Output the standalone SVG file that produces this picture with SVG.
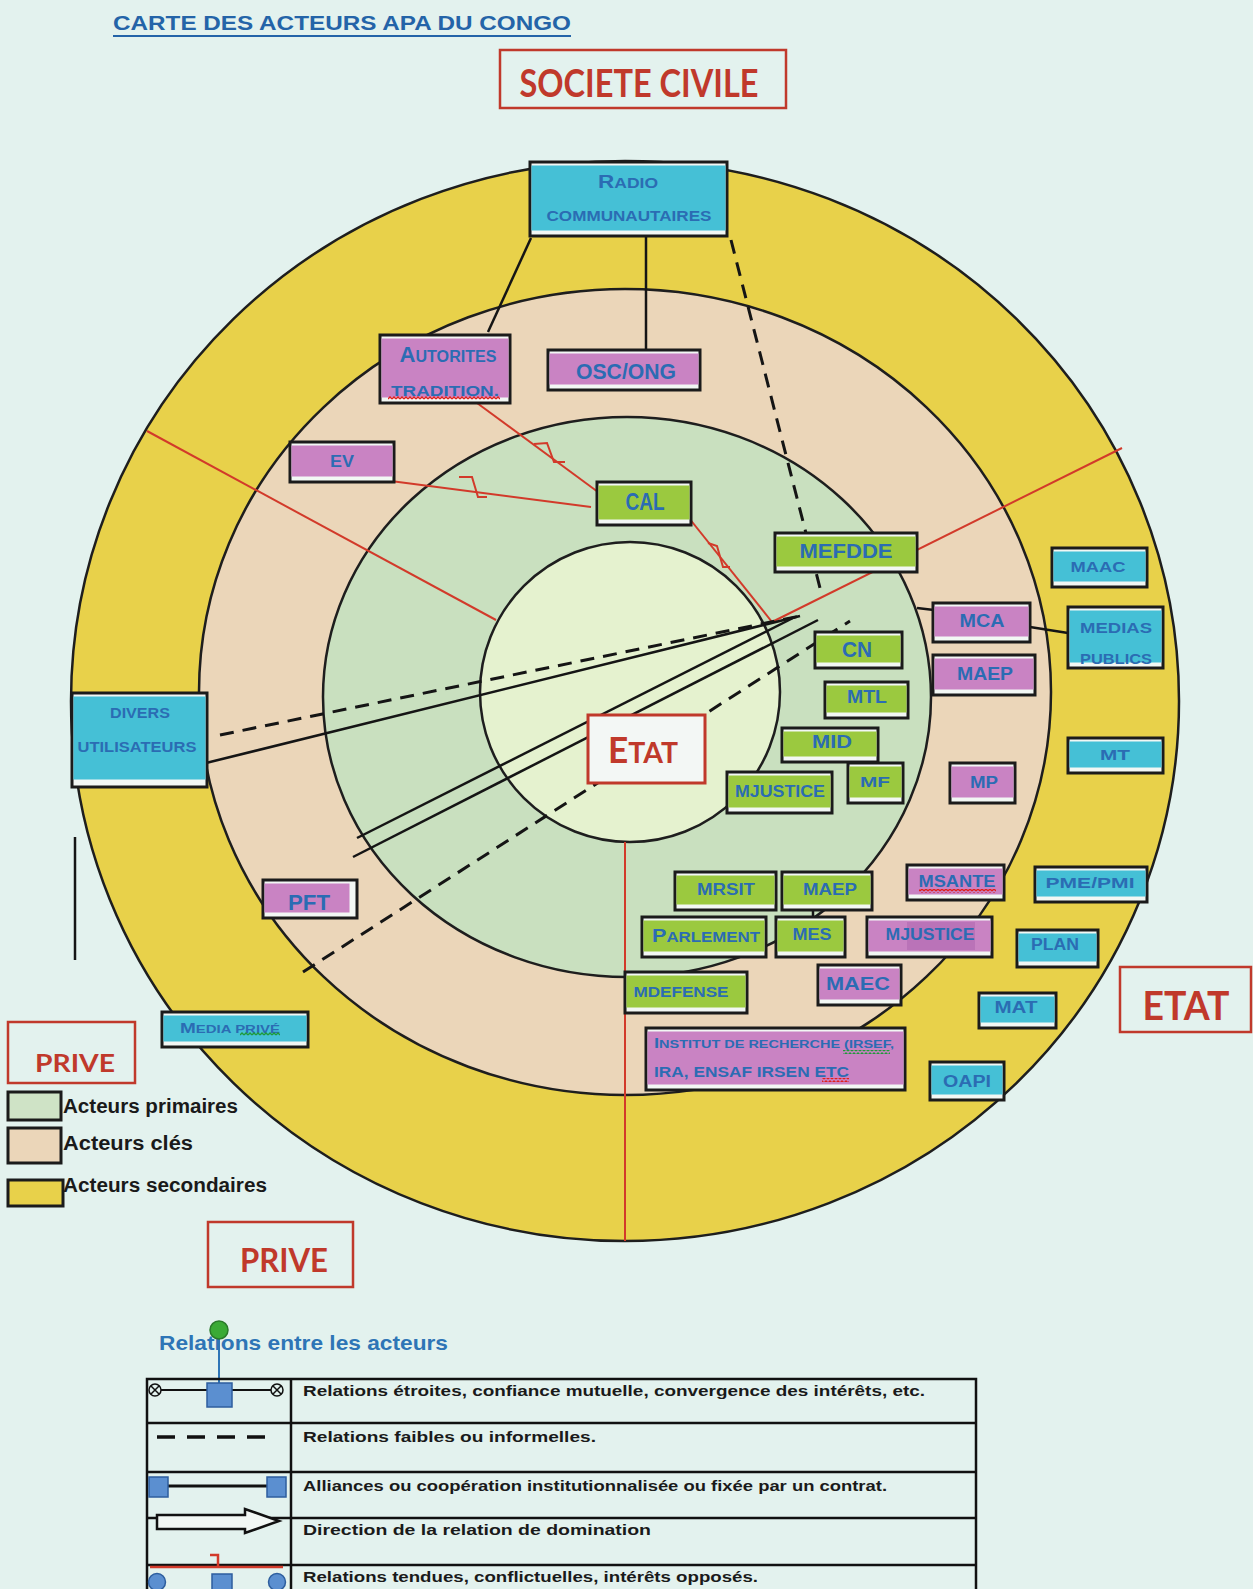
<svg xmlns="http://www.w3.org/2000/svg" width="1253" height="1589" viewBox="0 0 1253 1589">
<style>
.bgc{fill:#e3f2ee}
.ring{stroke:#1e1e1e;stroke-width:2.5}
.yel{fill:#e8d14a}.pea{fill:#ebd6b9}.grn{fill:#c9e0bf}.inn{fill:#e5f2cf}
.box{fill:#f2f7f4;stroke:#1b1b1b;stroke-width:3}
.cy{fill:#45c0d6}.pk{fill:#c983c3}.gr{fill:#9bc93f}
.bt{font-family:"Liberation Sans","DejaVu Sans",sans-serif;font-weight:bold;fill:#2b6cb3;text-anchor:middle}
.red{font-family:Lato,"Liberation Sans",sans-serif;font-weight:bold;fill:#c0392b;text-anchor:middle}
.lab{fill:none;stroke:#c0392b;stroke-width:2.5}
.ln{stroke:#151515;stroke-width:2.5;fill:none}
.dsh{stroke:#151515;stroke-width:3;fill:none;stroke-dasharray:14 9}
.rl{stroke:#d23a2a;stroke-width:2;fill:none}
.lt{font-family:"Liberation Sans","DejaVu Sans",sans-serif;fill:#1a1a1a}
.lg{font-weight:bold}
.tb{stroke:#111;stroke-width:2.5;fill:none}
.bsq{fill:#5b8fd0;stroke:#2e5e9e;stroke-width:1.5}
</style>
<defs>
<pattern id="wr" width="4" height="4" patternUnits="userSpaceOnUse"><path d="M0 3 L2 1 L4 3" stroke="#e0201c" fill="none" stroke-width="1.3"/></pattern>
<pattern id="wg" width="4" height="4" patternUnits="userSpaceOnUse"><path d="M0 3 L2 1 L4 3" stroke="#1f9a3a" fill="none" stroke-width="1.3"/></pattern>
</defs>
<rect class="bgc" x="0" y="0" width="1253" height="1589"/>

<g id="title">
<text x="113" y="30" font-family="'Liberation Sans',sans-serif" font-weight="bold" font-size="21" fill="#2464a8" textLength="458" lengthAdjust="spacingAndGlyphs">CARTE DES ACTEURS APA DU CONGO</text>
<line x1="113" y1="36" x2="571" y2="36" stroke="#2464a8" stroke-width="2"/>
</g>

<g id="rings">
<ellipse class="ring yel" cx="625" cy="701" rx="554" ry="540"/>
<ellipse class="ring pea" cx="625" cy="692" rx="426" ry="403"/>
<ellipse class="ring grn" cx="627" cy="697" rx="304" ry="280"/>
<ellipse class="ring inn" cx="630" cy="692" rx="150" ry="150"/>
</g>

<g id="connectors">
<line class="rl" x1="496" y1="620" x2="147" y2="431"/>
<line class="rl" x1="772" y1="622" x2="1122" y2="448"/>
<line class="rl" x1="625" y1="842" x2="625" y2="1241"/>
<line class="rl" x1="477" y1="403" x2="598" y2="492"/>
<polyline class="rl" points="534,444 547,443 554,462 565,462"/>
<line class="rl" x1="383" y1="480" x2="591" y2="507"/>
<polyline class="rl" points="459,477 472,477 478,497 487,497"/>
<line class="rl" x1="689" y1="518" x2="772" y2="622"/>
<polyline class="rl" points="708,543 717,546 723,567 730,567"/>
<line class="ln" x1="531" y1="238" x2="488" y2="332"/>
<line class="ln" x1="646" y1="237" x2="646" y2="350"/>
<line class="dsh" x1="731" y1="240" x2="820" y2="588"/>
<line class="ln" x1="206" y1="763" x2="800" y2="616"/>
<line class="dsh" x1="220" y1="735" x2="800" y2="616"/>
<line class="ln" x1="357" y1="838" x2="795" y2="617"/>
<line class="ln" x1="353" y1="857" x2="818" y2="620"/>
<line class="dsh" x1="303" y1="972" x2="850" y2="621"/>
<line class="ln" x1="917" y1="608" x2="934" y2="610"/>
<line class="ln" x1="1030" y1="627" x2="1068" y2="633"/>
<line class="ln" x1="813" y1="909" x2="813" y2="918"/>
<line class="ln" x1="75" y1="837" x2="75" y2="960" stroke-width="3"/>
</g>

<g id="nodes">
<g id="n-radio"><rect class="box" x="530" y="162" width="197" height="74"/><rect class="cy" x="531.5" y="165.5" width="194" height="65"/>
<text class="bt" x="628" y="188" font-size="14" textLength="60" lengthAdjust="spacingAndGlyphs"><tspan font-size="18">R</tspan>ADIO</text>
<text class="bt" x="629" y="221" font-size="14" textLength="165" lengthAdjust="spacingAndGlyphs">COMMUNAUTAIRES</text></g>

<g id="n-autorites"><rect class="box" x="380" y="335" width="130" height="68"/><rect class="pk" x="381.5" y="338.5" width="127" height="59"/>
<text class="bt" x="448" y="362" font-size="16" textLength="97" lengthAdjust="spacingAndGlyphs"><tspan font-size="22">A</tspan>UTORITES</text>
<text class="bt" x="445" y="396" font-size="15" textLength="108" lengthAdjust="spacingAndGlyphs">TRADITION.</text>
<rect x="388" y="396" width="112" height="4" fill="url(#wr)"/></g>

<g id="n-osc"><rect class="box" x="548" y="350" width="152" height="40"/><rect class="pk" x="549.5" y="353.5" width="149" height="31"/>
<text class="bt" x="626" y="379" font-size="22" font-weight="normal" textLength="100" lengthAdjust="spacingAndGlyphs">OSC/ONG</text></g>

<g id="n-ev"><rect class="box" x="290" y="442" width="104" height="40"/><rect class="pk" x="291.5" y="445.5" width="101" height="31"/>
<text class="bt" x="342" y="467" font-size="16" textLength="24" lengthAdjust="spacingAndGlyphs">EV</text></g>

<g id="n-cal"><rect class="box" x="597" y="482" width="94" height="43"/><rect class="gr" x="598.5" y="485.5" width="91" height="34"/>
<text class="bt" x="645" y="510" font-size="23" font-weight="normal" textLength="39" lengthAdjust="spacingAndGlyphs">CAL</text></g>

<g id="n-mefdde"><rect class="box" x="775" y="533" width="142" height="39"/><rect class="gr" x="776.5" y="536.5" width="139" height="30"/>
<text class="bt" x="846" y="558" font-size="21" textLength="93" lengthAdjust="spacingAndGlyphs">MEFDDE</text></g>

<g id="n-maac"><rect class="box" x="1052" y="548" width="95" height="39"/><rect class="cy" x="1053.5" y="551.5" width="92" height="30"/>
<text class="bt" x="1098" y="572" font-size="14" textLength="55" lengthAdjust="spacingAndGlyphs">MAAC</text></g>

<g id="n-mca"><rect class="box" x="933" y="603" width="97" height="39"/><rect class="pk" x="934.5" y="606.5" width="94" height="30"/>
<text class="bt" x="982" y="627" font-size="18" textLength="45" lengthAdjust="spacingAndGlyphs">MCA</text></g>

<g id="n-medias"><rect class="box" x="1068" y="607" width="95" height="61"/><rect class="cy" x="1069.5" y="610.5" width="92" height="52"/>
<text class="bt" x="1116" y="633" font-size="14" textLength="72" lengthAdjust="spacingAndGlyphs">MEDIAS</text>
<text class="bt" x="1116" y="664" font-size="14" textLength="72" lengthAdjust="spacingAndGlyphs">PUBLICS</text></g>

<g id="n-cn"><rect class="box" x="815" y="632" width="87" height="36"/><rect class="gr" x="816.5" y="635.5" width="84" height="27"/>
<text class="bt" x="857" y="657" font-size="22" font-weight="normal" textLength="30" lengthAdjust="spacingAndGlyphs">CN</text></g>

<g id="n-maep1"><rect class="box" x="933" y="655" width="102" height="40"/><rect class="pk" x="934.5" y="658.5" width="99" height="31"/>
<text class="bt" x="985" y="680" font-size="18" textLength="56" lengthAdjust="spacingAndGlyphs">MAEP</text></g>

<g id="n-mtl"><rect class="box" x="825" y="682" width="83" height="36"/><rect class="gr" x="826.5" y="685.5" width="80" height="27"/>
<text class="bt" x="867" y="703" font-size="18" textLength="40" lengthAdjust="spacingAndGlyphs">MTL</text></g>

<g id="n-divers"><rect class="box" x="72" y="693" width="135" height="94"/><rect class="cy" x="73.5" y="696.5" width="132" height="83"/>
<text class="bt" x="140" y="718" font-size="14" textLength="60" lengthAdjust="spacingAndGlyphs">DIVERS</text>
<text class="bt" x="137" y="752" font-size="14" textLength="119" lengthAdjust="spacingAndGlyphs">UTILISATEURS</text></g>

<g id="n-etat"><rect x="588" y="715" width="117" height="68" fill="#f3f7f5" stroke="#c0392b" stroke-width="3"/>
<text class="red" x="643" y="763" font-size="29" textLength="70" lengthAdjust="spacingAndGlyphs"><tspan font-size="36">E</tspan>TAT</text></g>

<g id="n-mid"><rect class="box" x="782" y="728" width="96" height="34"/><rect class="gr" x="783.5" y="731.5" width="93" height="25"/>
<text class="bt" x="832" y="748" font-size="18" textLength="40" lengthAdjust="spacingAndGlyphs">MID</text></g>

<g id="n-mt"><rect class="box" x="1068" y="738" width="95" height="35"/><rect class="cy" x="1069.5" y="741.5" width="92" height="26"/>
<text class="bt" x="1115" y="760" font-size="14" textLength="30" lengthAdjust="spacingAndGlyphs">MT</text></g>

<g id="n-mjustice1"><rect class="box" x="727" y="772" width="105" height="41"/><rect class="gr" x="728.5" y="775.5" width="102" height="32"/>
<text class="bt" x="780" y="797" font-size="16" textLength="90" lengthAdjust="spacingAndGlyphs">MJUSTICE</text></g>

<g id="n-mf"><rect class="box" x="848" y="763" width="55" height="40"/><rect class="gr" x="849.5" y="766.5" width="52" height="31"/>
<text class="bt" x="875" y="787" font-size="14" textLength="30" lengthAdjust="spacingAndGlyphs">MF</text></g>

<g id="n-mp"><rect class="box" x="950" y="763" width="65" height="40"/><rect class="pk" x="951.5" y="766.5" width="62" height="31"/>
<text class="bt" x="984" y="788" font-size="16" textLength="28" lengthAdjust="spacingAndGlyphs">MP</text></g>

<g id="n-pft"><rect class="box" x="263" y="880" width="94" height="38"/><rect class="pk" x="264.5" y="883.5" width="85" height="29"/>
<text class="bt" x="309" y="910" font-size="22" font-weight="normal" textLength="42" lengthAdjust="spacingAndGlyphs">PFT</text></g>

<g id="n-mrsit"><rect class="box" x="675" y="872" width="101" height="38"/><rect class="gr" x="676.5" y="875.5" width="98" height="29"/>
<text class="bt" x="726" y="895" font-size="16" textLength="58" lengthAdjust="spacingAndGlyphs">MRSIT</text></g>

<g id="n-maep2"><rect class="box" x="782" y="872" width="90" height="38"/><rect class="gr" x="783.5" y="875.5" width="87" height="29"/>
<text class="bt" x="830" y="895" font-size="16" textLength="54" lengthAdjust="spacingAndGlyphs">MAEP</text></g>

<g id="n-msante"><rect class="box" x="907" y="865" width="97" height="35"/><rect class="pk" x="908.5" y="868.5" width="94" height="26"/>
<text class="bt" x="957" y="887" font-size="16" textLength="77" lengthAdjust="spacingAndGlyphs">MSANTE</text>
<rect x="919" y="889" width="77" height="4" fill="url(#wr)"/></g>

<g id="n-pme"><rect class="box" x="1035" y="867" width="112" height="35"/><rect class="cy" x="1036.5" y="870.5" width="109" height="26"/>
<text class="bt" x="1090" y="888" font-size="14" textLength="89" lengthAdjust="spacingAndGlyphs">PME/PMI</text></g>

<g id="n-parlement"><rect class="box" x="642" y="917" width="124" height="40"/><rect class="gr" x="643.5" y="920.5" width="121" height="31"/>
<text class="bt" x="706" y="942" font-size="14" textLength="108" lengthAdjust="spacingAndGlyphs"><tspan font-size="18">P</tspan>ARLEMENT</text></g>

<g id="n-mes"><rect class="box" x="776" y="917" width="69" height="40"/><rect class="gr" x="777.5" y="920.5" width="66" height="31"/>
<text class="bt" x="812" y="940" font-size="16" textLength="39" lengthAdjust="spacingAndGlyphs">MES</text></g>

<g id="n-mjustice2"><rect class="box" x="867" y="917" width="125" height="40"/><rect class="pk" x="868.5" y="920.5" width="122" height="31"/>
<rect x="907" y="922" width="68" height="28" fill="#b46cb4" opacity="0.7"/>
<text class="bt" x="930" y="940" font-size="16" textLength="89" lengthAdjust="spacingAndGlyphs">MJUSTICE</text></g>

<g id="n-plan"><rect class="box" x="1017" y="930" width="81" height="37"/><rect class="cy" x="1018.5" y="933.5" width="78" height="28"/>
<text class="bt" x="1055" y="950" font-size="16" textLength="48" lengthAdjust="spacingAndGlyphs">PLAN</text></g>

<g id="n-mdefense"><rect class="box" x="625" y="972" width="122" height="41"/><rect class="gr" x="626.5" y="975.5" width="119" height="32"/>
<text class="bt" x="681" y="997" font-size="14" textLength="95" lengthAdjust="spacingAndGlyphs">MDEFENSE</text></g>

<g id="n-maec"><rect class="box" x="818" y="965" width="83" height="40"/><rect class="pk" x="819.5" y="968.5" width="80" height="31"/>
<text class="bt" x="858" y="990" font-size="18" textLength="64" lengthAdjust="spacingAndGlyphs">MAEC</text></g>

<g id="n-mat"><rect class="box" x="979" y="993" width="77" height="35"/><rect class="cy" x="980.5" y="996.5" width="74" height="26"/>
<text class="bt" x="1016" y="1013" font-size="16" textLength="43" lengthAdjust="spacingAndGlyphs">MAT</text></g>

<g id="n-media"><rect class="box" x="162" y="1012" width="146" height="35"/><rect class="cy" x="163.5" y="1015.5" width="143" height="26"/>
<text class="bt" x="230" y="1033" font-size="11" textLength="100" lengthAdjust="spacingAndGlyphs"><tspan font-size="14">M</tspan>EDIA PRIVÉ</text>
<rect x="240" y="1032" width="40" height="4" fill="url(#wg)"/></g>

<g id="n-institut"><rect class="box" x="646" y="1028" width="259" height="62"/><rect class="pk" x="647.5" y="1031.5" width="256" height="53"/>
<text class="bt" x="654" y="1048" font-size="11" style="text-anchor:start" textLength="240" lengthAdjust="spacingAndGlyphs"><tspan font-size="14">I</tspan>NSTITUT DE RECHERCHE (IRSEF,</text>
<text class="bt" x="654" y="1077" font-size="14" style="text-anchor:start" textLength="195" lengthAdjust="spacingAndGlyphs">IRA, ENSAF IRSEN ETC</text>
<rect x="843" y="1050" width="47" height="4" fill="url(#wg)"/>
<rect x="822" y="1078" width="27" height="4" fill="url(#wr)"/></g>

<g id="n-oapi"><rect class="box" x="930" y="1062" width="74" height="38"/><rect class="cy" x="931.5" y="1065.5" width="71" height="29"/>
<text class="bt" x="967" y="1087" font-size="16" textLength="48" lengthAdjust="spacingAndGlyphs">OAPI</text></g>
</g>

<g id="labels">
<g id="l-societe"><rect class="lab" x="500" y="50" width="286" height="58"/>
<text class="red" x="639" y="97" font-size="38" textLength="239" lengthAdjust="spacingAndGlyphs">SOCIETE CIVILE</text></g>
<g id="l-etat"><rect class="lab" x="1120" y="967" width="131" height="65"/>
<text class="red" x="1186" y="1020" font-size="41" textLength="87" lengthAdjust="spacingAndGlyphs">ETAT</text></g>
<g id="l-prive1"><rect class="lab" x="8" y="1022" width="127" height="61"/>
<text class="red" x="75" y="1072" font-size="25" textLength="80" lengthAdjust="spacingAndGlyphs">PRIVE</text></g>
<g id="l-prive2"><rect class="lab" x="208" y="1222" width="145" height="65"/>
<text class="red" x="284" y="1272" font-size="32" textLength="88" lengthAdjust="spacingAndGlyphs">PRIVE</text></g>
</g>

<g id="legend-zones">
<rect x="8" y="1092" width="53" height="28" fill="#cfe3c6" stroke="#1b1b1b" stroke-width="3"/>
<rect x="8" y="1128" width="53" height="35" fill="#ebd6b9" stroke="#1b1b1b" stroke-width="3"/>
<rect x="8" y="1180" width="55" height="26" fill="#e8d14a" stroke="#1b1b1b" stroke-width="3"/>
<text class="lt lg" x="63" y="1113" font-size="20" textLength="175" lengthAdjust="spacingAndGlyphs">Acteurs primaires</text>
<text class="lt lg" x="63" y="1150" font-size="20" textLength="130" lengthAdjust="spacingAndGlyphs">Acteurs clés</text>
<text class="lt lg" x="63" y="1192" font-size="20" textLength="204" lengthAdjust="spacingAndGlyphs">Acteurs secondaires</text>
</g>

<g id="legend-relations">
<text x="159" y="1350" font-family="'Liberation Sans',sans-serif" font-weight="bold" font-size="21" fill="#2e75b6" textLength="289" lengthAdjust="spacingAndGlyphs">Relations entre les acteurs</text>
<line x1="219" y1="1336" x2="219" y2="1384" stroke="#2e75b6" stroke-width="2"/>
<circle cx="219" cy="1330" r="9" fill="#3aaa35" stroke="#2a7a2a" stroke-width="1.5"/>
<rect class="tb" x="147" y="1379" width="829" height="230"/>
<line class="tb" x1="147" y1="1423" x2="976" y2="1423"/>
<line class="tb" x1="147" y1="1472" x2="976" y2="1472" stroke-width="3.5"/>
<line class="tb" x1="147" y1="1518" x2="976" y2="1518"/>
<line class="tb" x1="147" y1="1565" x2="976" y2="1565"/>
<line class="tb" x1="291" y1="1379" x2="291" y2="1589"/>
<line x1="161" y1="1390" x2="271" y2="1390" stroke="#111" stroke-width="2"/>
<g fill="none" stroke="#111" stroke-width="1.5"><circle cx="155" cy="1390" r="6"/><path d="M151 1386 L159 1394 M159 1386 L151 1394"/><circle cx="277" cy="1390" r="6"/><path d="M273 1386 L281 1394 M281 1386 L273 1394"/></g>
<rect class="bsq" x="207" y="1383" width="25" height="24"/>
<line x1="157" y1="1437" x2="266" y2="1437" stroke="#111" stroke-width="3.5" stroke-dasharray="18 12"/>
<line x1="168" y1="1486" x2="267" y2="1486" stroke="#111" stroke-width="3"/>
<rect class="bsq" x="149" y="1477" width="19" height="20"/>
<rect class="bsq" x="267" y="1477" width="19" height="20"/>
<path d="M157 1515 H245 V1509 L279 1521 L245 1533 V1529 H157 Z" fill="#f2f7f4" stroke="#111" stroke-width="2.5"/>
<line x1="150" y1="1567" x2="283" y2="1567" stroke="#d23a2a" stroke-width="2.5"/>
<polyline points="218,1567 218,1555 210,1555" fill="none" stroke="#d23a2a" stroke-width="2.5"/>
<circle class="bsq" cx="157" cy="1582" r="8.5"/>
<circle class="bsq" cx="277" cy="1582" r="8.5"/>
<rect class="bsq" x="212" y="1574" width="20" height="18"/>
<text class="lt lg" x="303" y="1396" font-size="15" textLength="622" lengthAdjust="spacingAndGlyphs">Relations étroites, confiance mutuelle, convergence des intérêts, etc.</text>
<text class="lt lg" x="303" y="1442" font-size="15" textLength="293" lengthAdjust="spacingAndGlyphs">Relations faibles ou informelles.</text>
<text class="lt lg" x="303" y="1491" font-size="15" textLength="584" lengthAdjust="spacingAndGlyphs">Alliances ou coopération institutionnalisée ou fixée par un contrat.</text>
<text class="lt lg" x="303" y="1535" font-size="15" textLength="348" lengthAdjust="spacingAndGlyphs">Direction de la relation de domination</text>
<text class="lt lg" x="303" y="1582" font-size="15" textLength="455" lengthAdjust="spacingAndGlyphs">Relations tendues, conflictuelles, intérêts opposés.</text>
</g>
</svg>
